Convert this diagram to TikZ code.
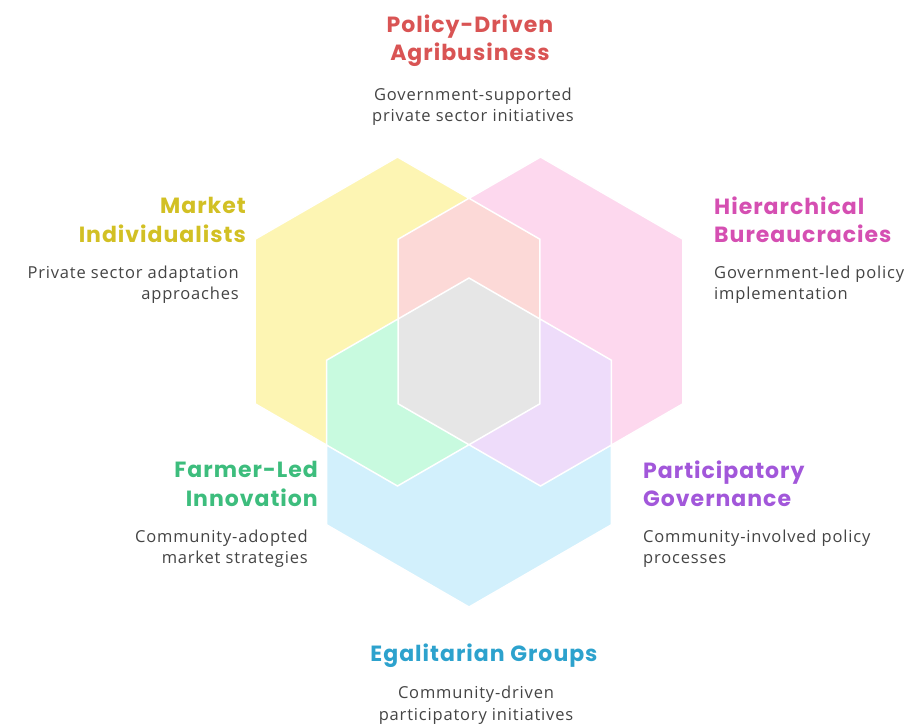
\documentclass[tikz,border=0pt]{standalone}
\usepackage{fontspec}
\setmainfont{Open Sans}[LetterSpace=5]
\newfontfamily\headfont{Poppins}[LetterSpace=4.5]
\usetikzlibrary{calc}

\definecolor{hexyellow}{HTML}{FDF5B3}
\definecolor{hexpink}{HTML}{FDD8EE}
\definecolor{hexblue}{HTML}{D2F0FC}
\definecolor{hexsalmon}{HTML}{FCD9D7}
\definecolor{hexgreen}{HTML}{C8FADF}
\definecolor{hexlilac}{HTML}{EEDCFA}
\definecolor{hexgrey}{HTML}{E6E6E6}
\definecolor{txred}{HTML}{D95454}
\definecolor{txyellow}{HTML}{D2C024}
\definecolor{txpink}{HTML}{D54FB2}
\definecolor{txgreen}{HTML}{3DBD7D}
\definecolor{txpurple}{HTML}{A257DA}
\definecolor{txblue}{HTML}{2DA2CD}
\definecolor{txgrey}{HTML}{444444}

\def\hr{164.5}
\newcommand{\hexpath}[1]{(#1) +(90:\hr) -- +(150:\hr) -- +(210:\hr) -- +(270:\hr) -- +(330:\hr) -- +(30:\hr) -- cycle}

\tikzset{
  title/.style={inner sep=0pt, font=\headfont\bfseries\fontsize{22}{28.5}\selectfont},
  desc/.style={inner sep=0pt, text=txgrey, font=\fontsize{16.5}{21.5}\selectfont}
}

\begin{document}
\begin{tikzpicture}[x=1pt,y=-1pt]
  \useasboundingbox (0,0) rectangle (916,724);
  \coordinate (Y) at (397.5,321.5);
  \coordinate (P) at (540.5,321.5);
  \coordinate (B) at (469,442.5);
  % the three hexagons
  \fill[hexyellow] \hexpath{Y};
  \fill[hexpink] \hexpath{P};
  \fill[hexblue] \hexpath{B};
  % overlaps
  \begin{scope}
    \clip \hexpath{Y};
    \fill[hexsalmon] \hexpath{P};
    \fill[hexgreen] \hexpath{B};
  \end{scope}
  \begin{scope}
    \clip \hexpath{P};
    \fill[hexlilac] \hexpath{B};
    \clip \hexpath{Y};
    \fill[hexgrey] \hexpath{B};
  \end{scope}
  \draw[white, line width=1.5pt] \hexpath{Y} \hexpath{P} \hexpath{B};

  % labels
  \node[title, text=txred, align=center] (pdt) at (470,40.5) {Policy-Driven\\Agribusiness};
  \node[desc, align=center] (pdd) at (473,106.5) {Government-supported\\private sector initiatives};
  \node[title, text=txyellow, align=right, anchor=east] (mit) at (246,220) {Market\\Individualists};
  \node[desc, align=right, anchor=east] (mid) at (239,284.5) {Private sector adaptation\\approaches};
  \node[title, text=txpink, align=left, anchor=west] (hbt) at (714,220) {Hierarchical\\Bureaucracies};
  \node[desc, align=left, anchor=west] (hbd) at (714,284.5) {Government-led policy\\implementation};
  \node[title, text=txgreen, align=right, anchor=east] (fit) at (318,484) {Farmer-Led\\Innovation};
  \node[desc, align=right, anchor=east] (fid) at (308,548.5) {Community-adopted\\market strategies};
  \node[title, text=txpurple, align=left, anchor=west] (pgt) at (643,484) {Participatory\\Governance};
  \node[desc, align=left, anchor=west] (pgd) at (643,548.5) {Community-involved policy\\processes};
  \node[title, text=txblue] (egt) at (484,656) {Egalitarian Groups};
  \node[desc, align=center] (egd) at (476,705) {Community-driven\\participatory initiatives};
\end{tikzpicture}
\end{document}
